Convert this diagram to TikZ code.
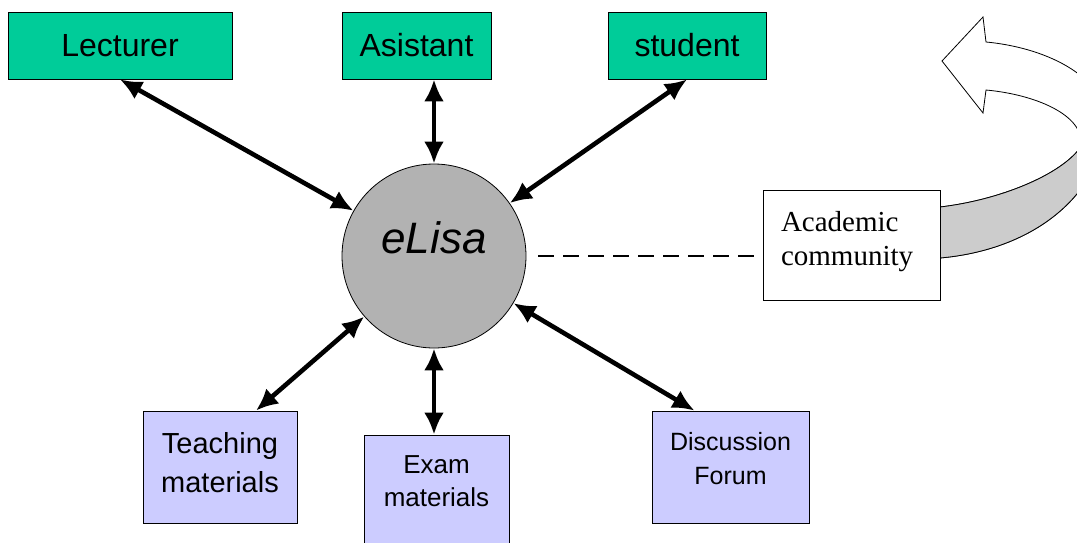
\documentclass[tikz,border=0pt]{standalone}
\usepackage{fontspec}
\setmainfont{Liberation Serif}
\setsansfont{Liberation Sans}
\usetikzlibrary{arrows.meta}
\definecolor{actorgreen}{RGB}{0,204,153}
\definecolor{toolblue}{RGB}{204,204,255}
\definecolor{coregray}{RGB}{178,178,178}
\definecolor{bandgray}{RGB}{204,204,204}

\begin{document}
\begin{tikzpicture}[x=0.5pt,y=-0.5pt,
                    actor/.style={draw,fill=actorgreen,minimum height=33.5pt,
                                  font=\sffamily\fontsize{16}{19.5}\selectfont},
                    tool/.style={draw,fill=toolblue,minimum height=56pt,align=center,
                                 font=\sffamily\fontsize{14.5}{19.5}\selectfont},
                    link/.style={{Latex[length=11pt,width=10pt]}-{Latex[length=11pt,width=10pt]},
                                 line width=2.3pt}]
    \clip (0,0) rectangle (1077,542);
    % curved arrow behind the community box
    \path[draw,fill=white] (940,207) .. controls (1000,200) and (1060,175) .. (1080,148)
        .. controls (1088,118) and (1040,95) .. (986,90) -- (983,113) -- (942,61)
        -- (983,17) -- (986,42) .. controls (1050,48) and (1112,80) .. (1106,130)
        .. controls (1095,200) and (1030,250) .. (940,258) -- cycle;
    \begin{scope}
        \clip (900,148) rectangle (1200,300);
        \path[draw,fill=bandgray] (940,207) .. controls (1000,200) and (1060,175) .. (1080,148)
            .. controls (1088,118) and (1040,95) .. (986,90) -- (983,113) -- (942,61)
            -- (983,17) -- (986,42) .. controls (1050,48) and (1112,80) .. (1106,130)
            .. controls (1095,200) and (1030,250) .. (940,258) -- cycle;
    \end{scope}
    \node[actor,minimum width=112pt] (lect) at (120,45.5) {Lecturer};
    \node[actor,minimum width=74.5pt] (asist) at (416.5,45.5) {Asistant};
    \node[actor,minimum width=79pt] (stud) at (687,45.5) {student};
    \node[circle,draw,fill=coregray,minimum size=92pt,
          label={[yshift=9pt,font=\sffamily\itshape\fontsize{22}{26}\selectfont]center:eLisa}]
          (elisa) at (434,256) {};
    \node[draw,fill=white,minimum width=88.5pt,minimum height=55pt,
          text width=70.5pt,inner xsep=9pt,align=left,
          font=\fontsize{14.5}{17}\selectfont] (acad) at (851.5,245) {Academic\\community\\[-10pt]\mbox{}};
    \node[tool,minimum width=77pt] (teach) at (220,467) {Teaching\\materials\\[-14.5pt]\mbox{}};
    \node[tool,minimum width=72.5pt,font=\sffamily\fontsize{13}{16.5}\selectfont]
          (exam) at (436.5,491) {Exam\\materials\\[-7pt]\mbox{}};
    \node[tool,minimum width=78.5pt,font=\sffamily\fontsize{12.5}{17}\selectfont]
          (disc) at (730.5,467) {Discussion\\Forum\\[-8pt]\mbox{}};
    % links
    \draw[link] (lect.south) -- (elisa);
    \draw[link] (elisa |- asist.south) -- (elisa);
    \draw[link] (stud.south) -- (elisa);
    \draw[link] ([xshift=18pt]teach.north) -- (elisa);
    \draw[link] (elisa) -- (elisa |- exam.north);
    \draw[link] ([xshift=-18pt]disc.north) -- (elisa);
    \draw[line width=1.3pt,dash pattern=on 8pt off 4.5pt] ([xshift=6pt]elisa.east) -- (acad.west |- elisa);
\end{tikzpicture}
\end{document}
